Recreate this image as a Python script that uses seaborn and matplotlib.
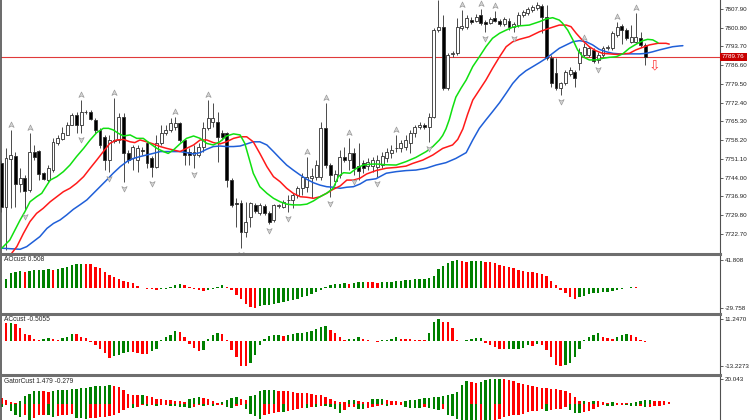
import numpy as np
import matplotlib
matplotlib.use("Agg")
import matplotlib.pyplot as plt
import seaborn as sns
from matplotlib.path import Path
from matplotlib import transforms

nan = np.nan

# ---- candles (bar index 0..137) ----
opens = [7749.6, 7732.9, 7751.1, 7752.2, 7741.6, 7743.9, 7739.3, 7753.7, 7754.1, 7745.8,
         7743.1, 7746.9, 7757.1, 7758.7, 7760.2, 7764.0, 7767.7, 7764.0, 7768.9, 7768.9,
         7765.9, 7762.1, 7759.4, 7750.7, 7758.3, 7758.3, 7767.0, 7753.4, 7751.5, 7750.7,
         7754.5, 7757.1, 7751.5, 7748.1, 7757.1, 7760.9, 7762.1, 7763.2, 7764.7, 7758.3,
         7753.7, 7752.6, 7752.6, 7755.6, 7762.8, 7765.1, 7765.1, 7760.9, 7760.9, 7743.1,
         7734.4, 7734.4, 7723.4, 7729.1, 7733.7, 7730.6, 7733.3, 7730.6, 7728.0, 7733.3,
         7732.9, 7735.4, 7735.6, 7737.5, 7740.1, 7740.5, 7743.9, 7744.3, 7744.3, 7762.8,
         7748.8, 7742.7, 7745.0, 7751.8, 7750.7, 7753.4, 7748.4, 7749.6, 7748.4, 7748.4,
         7748.1, 7748.8, 7751.5, 7753.4, 7755.1, 7755.3, 7755.6, 7757.1, 7760.9, 7763.2,
         7764.0, 7763.2, 7767.0, 7799.9, 7801.1, 7778.0, 7790.9, 7791.2, 7800.7, 7801.1,
         7803.7, 7803.3, 7805.6, 7803.0, 7802.6, 7804.5, 7803.3, 7802.2, 7803.3, 7801.1,
         7801.8, 7805.6, 7806.4, 7807.5, 7808.3, 7809.0, 7804.9, 7789.3, 7783.7, 7778.0,
         7779.9, 7783.3, 7784.0, 7787.4, 7790.5, 7790.5, 7792.4, 7788.6, 7790.5, 7793.1,
         7793.1, 7798.0, 7801.5, 7799.9, 7795.4, 7795.4, 7796.9, 7794.3]
highs = [7750.7, 7755.3, 7762.1, 7753.7, 7747.7, 7745.0, 7760.9, 7756.4, 7754.5, 7746.2,
         7748.8, 7759.0, 7760.2, 7763.2, 7765.1, 7768.5, 7768.9, 7773.4, 7769.6, 7769.6,
         7766.6, 7762.8, 7760.2, 7760.2, 7774.2, 7768.5, 7768.5, 7754.5, 7756.4, 7756.4,
         7755.6, 7757.5, 7752.2, 7760.2, 7764.0, 7764.0, 7766.6, 7767.0, 7765.1, 7758.3,
         7755.3, 7756.4, 7757.1, 7765.1, 7773.4, 7772.3, 7768.9, 7762.1, 7761.3, 7743.9,
         7736.3, 7735.6, 7734.8, 7734.8, 7734.4, 7734.4, 7734.0, 7731.4, 7734.0, 7734.0,
         7735.6, 7737.5, 7738.2, 7740.9, 7745.8, 7751.8, 7747.7, 7750.7, 7765.1, 7772.3,
         7749.6, 7746.9, 7754.5, 7755.6, 7759.0, 7755.3, 7757.1, 7750.7, 7751.5, 7751.8,
         7752.6, 7753.7, 7755.3, 7756.4, 7760.2, 7758.3, 7760.2, 7762.1, 7764.0, 7765.1,
         7764.7, 7768.5, 7800.7, 7811.3, 7805.6, 7791.2, 7792.0, 7804.5, 7807.5, 7805.6,
         7804.9, 7806.0, 7807.9, 7803.7, 7804.9, 7807.1, 7804.1, 7804.9, 7804.5, 7803.0,
         7806.8, 7807.5, 7808.6, 7809.4, 7810.5, 7809.8, 7809.4, 7790.5, 7789.3, 7780.2,
         7784.8, 7785.9, 7784.8, 7793.1, 7795.0, 7793.9, 7793.1, 7791.6, 7793.9, 7794.3,
         7799.6, 7803.0, 7802.2, 7800.7, 7801.8, 7806.4, 7799.2, 7795.0]
lows = [7731.0, 7716.6, 7732.5, 7732.9, 7738.6, 7731.8, 7738.6, 7750.7, 7743.1, 7743.1,
        7742.4, 7746.2, 7756.4, 7758.3, 7760.2, 7764.0, 7760.9, 7760.9, 7768.1, 7765.9,
        7760.9, 7755.3, 7746.9, 7746.2, 7757.1, 7757.1, 7742.4, 7749.6, 7746.9, 7746.2,
        7752.6, 7747.7, 7744.3, 7747.7, 7756.4, 7760.2, 7761.3, 7762.1, 7757.5, 7748.8,
        7748.8, 7747.7, 7751.8, 7753.7, 7762.1, 7763.2, 7750.0, 7758.3, 7740.5, 7732.9,
        7725.3, 7717.4, 7721.5, 7725.3, 7730.6, 7729.9, 7729.9, 7726.5, 7727.2, 7732.5,
        7732.5, 7731.0, 7732.5, 7736.3, 7737.5, 7738.6, 7736.3, 7743.1, 7743.1, 7747.7,
        7736.7, 7741.2, 7743.9, 7750.0, 7746.9, 7745.0, 7743.1, 7745.8, 7746.9, 7746.2,
        7744.3, 7747.7, 7750.0, 7751.5, 7753.7, 7753.7, 7754.5, 7753.4, 7759.4, 7762.4,
        7762.4, 7757.5, 7766.6, 7799.2, 7777.2, 7777.2, 7789.7, 7790.5, 7799.9, 7800.3,
        7802.2, 7803.0, 7801.8, 7799.2, 7802.2, 7803.0, 7801.5, 7801.5, 7799.9, 7799.2,
        7801.1, 7804.9, 7805.6, 7806.8, 7807.5, 7798.8, 7788.6, 7778.4, 7777.2, 7775.3,
        7779.1, 7782.5, 7778.4, 7784.8, 7789.7, 7789.7, 7787.4, 7787.4, 7789.7, 7792.4,
        7792.4, 7797.3, 7794.6, 7796.2, 7795.0, 7795.0, 7793.5, 7786.7]
closes = [7732.9, 7751.5, 7752.6, 7741.6, 7743.9, 7739.0, 7753.7, 7751.8, 7745.4, 7743.5,
          7747.7, 7757.5, 7759.0, 7760.9, 7764.0, 7767.7, 7764.0, 7768.9, 7768.7, 7766.2,
          7762.1, 7756.4, 7750.7, 7758.3, 7757.9, 7767.0, 7753.4, 7750.7, 7755.6, 7755.3,
          7754.1, 7749.6, 7748.1, 7757.1, 7760.9, 7762.1, 7764.7, 7764.7, 7758.3, 7752.6,
          7752.6, 7753.7, 7755.6, 7762.8, 7766.6, 7766.6, 7759.4, 7759.4, 7743.1, 7733.7,
          7734.0, 7723.4, 7727.2, 7734.4, 7731.4, 7733.7, 7730.6, 7727.2, 7733.7, 7733.5,
          7734.8, 7735.6, 7737.5, 7740.1, 7744.3, 7744.3, 7744.6, 7748.8, 7762.8, 7748.8,
          7745.0, 7745.4, 7751.8, 7750.7, 7753.4, 7747.7, 7746.5, 7747.7, 7750.0, 7750.7,
          7750.7, 7752.2, 7753.7, 7754.5, 7755.3, 7757.1, 7758.3, 7760.9, 7763.2, 7764.0,
          7763.2, 7767.0, 7799.9, 7801.1, 7778.0, 7790.5, 7791.2, 7801.1, 7801.5, 7804.5,
          7803.0, 7804.9, 7802.6, 7802.2, 7804.1, 7803.3, 7802.2, 7804.1, 7801.1, 7802.2,
          7805.6, 7806.8, 7807.9, 7808.6, 7809.4, 7804.9, 7789.3, 7779.9, 7778.0, 7779.9,
          7784.0, 7784.8, 7781.8, 7791.6, 7793.5, 7793.1, 7788.2, 7790.5, 7793.1, 7793.5,
          7798.8, 7801.1, 7799.9, 7796.9, 7797.3, 7797.3, 7794.3, 7789.76]

# ---- alligator lines (bar index, price) ----
lips_x = [0.1, 1.8, 4.0, 5.0, 6.1, 7.5, 8.6, 9.7, 10.4, 11.8, 13.2, 14.6, 16.0, 17.5, 18.9, 20.3,
          21.7, 22.8, 23.8, 24.9, 26.0, 27.4, 28.8, 30.2, 31.6, 33.1, 34.5, 35.5, 36.6, 38.0, 39.4,
          40.9, 42.3, 43.7, 45.1, 46.5, 47.9, 49.4, 50.8, 51.8, 52.6, 53.6, 55.0, 56.5, 57.9, 59.3,
          60.7, 62.1, 63.6, 65.0, 66.4, 67.8, 69.2, 70.6, 71.7, 72.8, 74.2, 75.6, 77.0, 78.4, 79.7,
          81.9, 84.0, 86.1, 88.2, 90.4, 91.8, 93.2, 93.9, 94.6, 95.3, 96.0, 96.7, 97.8, 98.9, 100.3,
          101.7, 103.1, 104.5, 106.0, 107.4, 108.8, 110.2, 112.3, 114.5, 115.9, 117.3, 118.7, 119.4,
          120.5, 121.6, 122.6, 123.7, 125.1, 126.5, 127.9, 129.4, 130.8, 132.2, 133.6, 135.0, 136.5,
          137.5, 138.6, 139.7]
lips_y = [7717.3, 7720.4, 7728.0, 7731.1, 7734.9, 7736.8, 7738.1, 7741.2, 7743.1, 7744.4, 7746.3,
          7748.8, 7752.0, 7755.1, 7758.3, 7761.1, 7762.7, 7762.7, 7762.1, 7760.8, 7759.8, 7760.2,
          7758.9, 7758.9, 7757.0, 7755.1, 7753.9, 7753.2, 7754.5, 7756.8, 7758.9, 7759.8, 7758.9,
          7757.0, 7756.4, 7757.6, 7759.8, 7760.6, 7760.2, 7757.0, 7752.0, 7745.7, 7740.6, 7738.1,
          7736.2, 7734.9, 7734.0, 7733.7, 7733.7, 7734.0, 7735.2, 7736.8, 7738.1, 7740.0, 7744.4,
          7745.9, 7745.7, 7747.6, 7748.8, 7749.1, 7749.2, 7748.9, 7748.8, 7750.1, 7751.7, 7753.9,
          7755.8, 7758.3, 7760.0, 7762.5, 7766.0, 7770.5, 7774.5, 7777.9, 7781.0, 7786.1, 7789.8,
          7793.6, 7796.8, 7798.7, 7799.9, 7801.0, 7801.5, 7801.8, 7803.1, 7804.1, 7804.6, 7803.7,
          7802.5, 7799.9, 7796.2, 7792.4, 7789.8, 7788.6, 7788.6, 7789.2, 7789.6, 7789.8, 7790.9,
          7793.0, 7794.5, 7795.9, 7796.4, 7796.2, 7795.1]
teeth_x = [2.2, 3.3, 4.7, 6.1, 7.5, 8.9, 10.4, 11.8, 13.2, 14.6, 16.0, 17.5, 18.9, 20.3, 21.7, 23.1,
           24.5, 26.0, 27.4, 28.4, 29.5, 30.9, 32.3, 33.8, 35.2, 36.6, 38.0, 39.4, 40.9, 42.3, 43.7,
           45.1, 46.5, 47.9, 49.4, 50.8, 52.2, 53.6, 55.0, 56.5, 57.9, 59.3, 60.7, 62.1, 63.6, 65.0,
           66.4, 67.8, 69.2, 70.6, 72.1, 73.5, 74.9, 76.3, 77.7, 79.7, 81.9, 84.0, 86.1, 87.5, 89.7,
           91.8, 93.9, 96.0, 97.1, 98.2, 99.2, 100.3, 101.7, 103.1, 104.5, 106.0, 107.4, 108.8, 110.2,
           112.3, 114.5, 116.6, 118.7, 120.2, 121.2, 122.3, 123.7, 125.1, 126.5, 127.9, 129.4, 130.8,
           132.2, 133.6, 135.0, 136.5, 137.9, 139.7, 141.4, 142.1]
teeth_y = [7715.4, 7717.9, 7722.9, 7727.4, 7730.5, 7732.4, 7734.9, 7736.8, 7738.7, 7740.0, 7741.9,
           7744.4, 7747.6, 7750.7, 7753.9, 7757.0, 7758.3, 7758.5, 7757.6, 7757.3, 7758.3, 7757.6,
           7756.8, 7755.8, 7755.1, 7754.5, 7753.9, 7755.1, 7756.4, 7758.3, 7758.3, 7757.3, 7756.8,
           7757.6, 7758.9, 7759.5, 7759.5, 7757.6, 7753.2, 7748.2, 7744.4, 7742.5, 7740.0, 7738.1,
           7736.8, 7736.6, 7736.2, 7736.8, 7738.1, 7739.6, 7740.9, 7743.1, 7743.1, 7743.8, 7745.4,
           7746.7, 7747.6, 7747.9, 7748.4, 7749.4, 7750.7, 7752.6, 7755.1, 7756.4, 7758.5, 7762.5,
           7768.0, 7773.4, 7777.2, 7781.0, 7785.4, 7789.8, 7793.6, 7795.5, 7796.4, 7797.4, 7799.3,
           7800.6, 7801.8, 7801.8, 7801.2, 7798.7, 7795.9, 7793.6, 7792.1, 7791.1, 7790.9, 7790.7,
           7790.9, 7791.1, 7792.4, 7793.4, 7794.3, 7794.9, 7794.9, 7794.6]
jaw_x = [0.1, 4.0, 5.4, 6.8, 8.2, 9.7, 11.1, 12.5, 13.9, 15.3, 16.7, 18.2, 19.6, 21.0, 22.4, 23.8,
         25.3, 26.7, 28.1, 29.5, 30.9, 32.3, 33.8, 35.2, 36.6, 38.0, 39.4, 40.9, 42.3, 43.7, 45.1,
         46.5, 47.9, 49.4, 50.8, 52.2, 53.6, 55.0, 56.5, 57.9, 59.3, 60.7, 62.1, 63.6, 65.0, 66.4,
         67.8, 69.2, 70.6, 72.1, 73.5, 74.9, 76.3, 77.7, 79.7, 81.9, 84.0, 86.1, 88.2, 90.4, 92.5,
         94.6, 96.7, 98.9, 100.3, 101.7, 103.1, 104.5, 106.0, 107.4, 108.8, 110.2, 111.6, 113.1,
         114.5, 115.9, 117.3, 118.7, 120.2, 121.6, 123.0, 124.4, 125.8, 127.2, 128.7, 130.1, 131.5,
         133.6, 135.8, 137.2, 138.6, 140.0, 141.4, 142.8, 144.3, 145.0]
jaw_y = [7717.3, 7716.9, 7717.9, 7719.8, 7721.7, 7724.8, 7726.7, 7728.0, 7729.9, 7732.0, 7733.7,
         7735.6, 7738.1, 7740.6, 7743.1, 7745.7, 7748.2, 7750.1, 7751.3, 7752.0, 7752.6, 7753.2,
         7753.9, 7753.9, 7753.9, 7753.9, 7753.5, 7753.0, 7753.5, 7754.8, 7755.8, 7756.0, 7755.8,
         7755.8, 7756.0, 7756.8, 7757.6, 7757.6, 7756.4, 7753.9, 7751.3, 7748.8, 7746.9, 7745.0,
         7743.4, 7742.1, 7741.2, 7740.6, 7740.4, 7740.0, 7740.4, 7740.6, 7741.6, 7743.1, 7743.6,
         7745.7, 7746.3, 7746.7, 7746.9, 7747.6, 7748.8, 7749.7, 7751.3, 7753.5, 7758.3, 7762.7,
         7765.9, 7769.0, 7772.4, 7776.0, 7779.7, 7782.5, 7784.5, 7786.1, 7787.6, 7789.2, 7791.1,
         7793.0, 7794.3, 7795.5, 7795.9, 7795.5, 7794.3, 7792.6, 7791.7, 7791.1, 7790.9, 7790.9,
         7790.9, 7791.1, 7791.7, 7792.4, 7793.0, 7793.6, 7793.9, 7794.0]

fractal_up = [2, 6, 17, 24, 37, 44, 65, 69, 74, 84, 98, 102, 105, 124, 131, 135]
fractal_dn = [5, 17, 23, 26, 32, 41, 51, 57, 61, 70, 75, 80, 91, 103, 109, 119, 127]
last_price = 7789.76
signal_bar, signal_price = 139, 7786.6

price_ticks = [7807.90, 7800.80, 7793.70, 7786.60, 7779.50, 7772.40, 7765.30,
               7758.20, 7751.10, 7744.00, 7736.90, 7729.80, 7722.70]

# ---- oscillators ----
ao = [nan, 13.5, 22.5, 25.0, 25.5, 24.5, 26.5, 27.0, 27.5, 28.0,
      28.5, 28.25, 29.0, 30.0, 32.5, 34.5, 36.0, 36.5, 36.25, 36.0,
      32.5, 30.0, 25.0, 20.0, 16.5, 13.5, 11.5, 10.0, 7.5, 3.5,
      0.5, -0.5, -1.5, -2.0, -1.5, -1.0, 1.5, 5.0, 6.5, 5.0,
      2.5, -1.0, -2.5, -3.5, -2.5, -1.0, 2.5, 4.5, 1.5, -2.5,
      -10.0, -16.5, -23.5, -27.5, -29.758, -26.5, -25.5, -24.5, -23.0, -21.5,
      -20.0, -18.5, -17.5, -15.5, -13.5, -11.0, -8.5, -6.0, -2.5, 2.5,
      5.5, 6.5, 7.0, 7.5, 7.25, 8.5, 9.25, 9.5, 9.25, 9.0,
      8.5, 9.5, 9.75, 10.0, 11.0, 11.5, 12.5, 13.25, 13.5, 14.0,
      14.75, 15.0, 18.5, 28.5, 33.5, 37.5, 41.0, 41.808, 40.3, 39.8,
      40.6, 41.0, 41.4, 40.0, 38.8, 37.5, 35.5, 34.0, 32.5, 30.0,
      27.5, 26.5, 25.0, 24.0, 22.5, 21.5, 18.5, 11.5, 4.5, -2.5,
      -7.5, -12.5, -15.5, -12.5, -11.5, -9.0, -7.5, -6.5, -6.0, -5.5,
      -4.5, -2.5, -1.2, 0.2, 1.8, 1.4, 1.0, 0.508]
ac = [nan, 9.0, 9.3, 8.7, 6.4, 3.4, 2.9, 0.7, 0.4, 0.7,
      1.2, 0.8, 0.6, 1.2, 2.1, 3.7, 3.3, 2.1, 1.2, -0.7,
      -2.3, -4.5, -6.6, -9.2, -8.0, -7.4, -6.6, -5.7, -5.9, -6.4,
      -6.8, -7.0, -5.2, -4.5, 0.6, 2.0, 2.9, 5.0, 4.7, 1.8,
      -1.9, -3.9, -5.2, -4.8, 1.1, 2.9, 3.8, 3.4, 0.6, -4.8,
      -8.3, -13.0, -13.2273, -11.7, -7.4, -2.3, 1.1, 2.4, 2.9, 3.0,
      2.4, 2.9, 3.4, 3.8, 4.2, 4.7, 5.2, 5.9, 6.9, 7.6,
      5.6, 3.8, 2.0, 0.6, 0.8, 1.1, 1.8, 1.1, 0.6, 0.0,
      -0.4, 0.4, 0.6, 1.1, 1.8, 1.1, 0.8, 0.7, 0.6, 0.5,
      0.4, 4.2, 9.9, 11.247, 9.9, 9.6, 6.4, 0.6, 0.0, 0.6,
      1.1, 1.3, 1.5, -1.0, -2.3, -3.4, -4.2, -4.5, -4.3, -4.2,
      -4.1, -3.7, -2.3, -2.5, -1.8, -2.3, -4.8, -8.3, -12.6, -13.0,
      -12.8, -11.7, -8.3, -4.5, 0.4, 1.8, 2.9, 3.8, 2.0, 1.3,
      1.1, 1.8, 2.9, 3.4, 2.9, 2.0, 0.6, -0.5055]
gator_up = [4.5, 2.7, 1.3, 0.8, 1.9, 6.1, 8.0, 9.9, 10.1, 9.9,
            9.3, 10.4, 10.7, 10.8, 11.2, 11.5, 12.0, 12.5, 12.8, 13.6,
            14.2, 14.3, 14.4, 14.7, 14.2, 13.4, 10.7, 8.0, 7.2, 6.7,
            7.2, 6.1, 5.3, 4.0, 3.5, 2.9, 2.7, 2.4, 1.9, 1.3,
            3.5, 4.5, 5.1, 4.5, 3.5, 2.4, 0.8, 1.3, 2.9, 4.5,
            5.1, 4.0, 2.9, 6.1, 7.2, 9.9, 10.7, 10.9, 11.1, 10.4,
            10.1, 9.9, 9.3, 8.8, 8.5, 8.3, 7.7, 7.2, 6.7, 5.1,
            3.5, 1.9, 1.3, 1.2, 2.7, 2.8, 1.9, 1.3, 1.2, 3.5,
            3.6, 3.7, 2.9, 2.1, 1.9, 1.6, 1.9, 2.7, 2.9, 4.0,
            4.5, 4.8, 5.1, 5.3, 6.1, 6.7, 8.0, 9.3, 15.2, 17.9,
            17.4, 16.3, 17.5, 18.7, 19.5, 19.8, 20.043, 19.5, 18.7, 17.9,
            16.8, 16.0, 15.2, 14.4, 13.4, 12.8, 12.5, 12.0, 11.7, 11.2,
            10.4, 8.8, 5.3, 1.9, 2.1, 1.7, 2.4, 2.1, 1.3, 0.8,
            1.1, 0.5, 0.48, 0.3, 0.8, 1.3, 2.1, 2.7, 2.72, 2.5,
            2.4, 1.9, 1.479]
gator_lo = [-2.7, -1.3, -6.1, -8.8, -10.7, -9.3, -14.0, -11.5, -9.3, -8.8,
            -9.3, -10.4, -9.9, -9.3, -8.8, -8.3, -11.5, -11.7, -11.8, -11.5,
            -11.2, -10.9, -10.7, -9.9, -9.3, -7.2, -5.3, -3.5, -3.6, -2.9,
            -1.3, -1.5, -1.3, -1.5, -1.3, -1.3, -1.6, -1.9, -2.4, -2.9,
            -3.5, -2.4, -1.3, -1.5, -1.3, -1.9, -0.8, -0.8, -2.7, -3.5,
            -1.9, -1.3, -4.0, -8.0, -9.9, -12.0, -9.3, -8.0, -7.2, -6.7,
            -6.8, -6.1, -5.3, -4.0, -3.5, -3.6, -2.7, -2.8, -1.9, -2.0,
            -2.4, -4.0, -7.2, -5.3, -2.7, -2.4, -4.0, -4.5, -3.5, -2.7,
            -2.1, -1.3, -1.9, -1.3, -1.1, -1.0, -2.7, -3.5, -3.6, -3.7,
            -2.7, -3.5, -4.5, -5.3, -4.5, -9.3, -9.9, -12.0, -13.6, -13.8,
            -14.2, -14.3, -13.1, -13.6, -14.2, -13.4, -12.0, -10.9, -9.9, -9.3,
            -8.8, -8.0, -6.7, -6.1, -5.6, -4.5, -6.1, -5.3, -4.5, -4.0,
            -2.4, -5.3, -7.2, -7.7, -6.7, -6.1, -4.5, -2.7, -1.3, -1.6,
            -1.9, -1.1, -0.8, -1.1, -1.9, -2.1, -2.0, -2.7, -2.4, -1.9,
            -1.6, -1.3, -0.279]

GREEN, RED = "#008000", "#ff0000"


def trend_colors(values, rising_is_green=True, first=GREEN):
    v = np.asarray(values, dtype=float)
    prev = np.r_[nan, v[:-1]]
    grow = v > prev if rising_is_green else v < prev
    cols = np.where(grow, GREEN, RED).astype(object)
    cols[np.isnan(prev)] = first
    return cols


def hist(ax, values, rising_is_green=True, first=GREEN):
    v = np.asarray(values, dtype=float)
    cols = trend_colors(v, rising_is_green, first)
    ok = ~np.isnan(v)
    x = np.arange(len(v))
    ax.bar(x[ok], v[ok], width=0.5, color=list(cols[ok]), linewidth=0)


sns.set_theme(style="white")
plt.rcParams['font.family'] = ['Liberation Sans', 'DejaVu Sans']

W, H = 752, 420
fig = plt.figure(figsize=(W / 100, H / 100), dpi=100)


def box(top, bottom):
    return [1 / W, (H - bottom) / H, 719 / W, (bottom - top) / H]


ax = fig.add_axes(box(0, 253.5))
ax_ao = fig.add_axes(box(254, 313), sharex=ax)
ax_ac = fig.add_axes(box(314, 374), sharex=ax)
ax_g = fig.add_axes(box(375, 432), sharex=ax)

# candles
o, c = np.array(opens), np.array(closes)
bars = np.arange(len(o))
bull = c >= o
ax.vlines(bars, lows, highs, color="#4a4a4a", linewidth=0.7, zorder=2)
body = np.maximum(np.abs(c - o), 0.3)
ax.bar(bars, body, bottom=np.minimum(o, c), width=0.62,
       color=np.where(bull, "white", "black"), edgecolor="#303030",
       linewidth=0.6, zorder=3)

# alligator
sns.lineplot(x=jaw_x, y=jaw_y, ax=ax, color="#1f5fd8", linewidth=1.1, sort=False, estimator=None, zorder=4)
sns.lineplot(x=teeth_x, y=teeth_y, ax=ax, color="#ff1a1a", linewidth=1.1, sort=False, estimator=None, zorder=4)
sns.lineplot(x=lips_x, y=lips_y, ax=ax, color="#10e010", linewidth=1.1, sort=False, estimator=None, zorder=4)

# fractals
arrow = Path([(0, 1), (0.75, -0.55), (0, -0.15), (-0.75, -0.55), (0, 1)],
             [Path.MOVETO, Path.LINETO, Path.LINETO, Path.LINETO, Path.CLOSEPOLY])
arrow_dn = Path(arrow.vertices * [1, -1], arrow.codes)
hi, lo = np.array(highs), np.array(lows)
ax.plot(fractal_up, hi[fractal_up] + 1.9, linestyle="none", marker=arrow, markersize=5,
        markerfacecolor="#d8d8d8", markeredgecolor="#9a9a9a", markeredgewidth=0.5, zorder=5)
ax.plot(fractal_dn, lo[fractal_dn] - 2.3, linestyle="none", marker=arrow_dn, markersize=5,
        markerfacecolor="#d8d8d8", markeredgecolor="#9a9a9a", markeredgewidth=0.5, zorder=5)

# current price and signal
ax.axhline(last_price, color="#e03a3a", linewidth=0.8, zorder=1)
ax.text(signal_bar, signal_price, "\u21e9", color="#ff3b3b", fontsize=10,
        ha="center", va="center", family=["DejaVu Sans"], zorder=6)
tr = transforms.blended_transform_factory(ax.transAxes, ax.transData)
ax.text(1.003, last_price, f"{last_price:.2f}", transform=tr, ha="left", va="center",
        fontsize=4.5, color="white", clip_on=False,
        bbox=dict(boxstyle="square,pad=0.3", fc="#c80000", ec="none"))

ax.set_xlim(-0.07, 152.9)
ax.set_ylim(7715.3, 7811.3)
ax.set_yticks(price_ticks)
ax.set_yticklabels([f"{p:.2f}" for p in price_ticks])

# oscillators
hist(ax_ao, ao, True, GREEN)
ax_ao.set_ylim(-37.0, 51.5)
ax_ao.set_yticks([41.808, -29.758])
ax_ao.set_yticklabels(["41.808", "-29.758"])
ax_ao.text(0.004, 0.96, "AOcust 0.508", transform=ax_ao.transAxes, va="top", fontsize=4.8)

hist(ax_ac, ac, True, RED)
ax_ac.set_ylim(-17.3, 13.9)
ax_ac.set_yticks([11.247, -13.2273])
ax_ac.set_yticklabels(["11.2470", "-13.2273"])
ax_ac.text(0.004, 0.96, "ACcust -0.5055", transform=ax_ac.transAxes, va="top", fontsize=4.8)

hist(ax_g, gator_up, True, RED)
hist(ax_g, gator_lo, False, GREEN)
ax_g.set_ylim(-22.6, 23.0)
ax_g.set_yticks([20.043])
ax_g.set_yticklabels(["20.043"])
ax_g.text(0.004, 0.95, "GatorCust 1.479 -0.279", transform=ax_g.transAxes, va="top", fontsize=4.8)

for a in (ax, ax_ao, ax_ac, ax_g):
    a.set_facecolor("white")
    a.yaxis.tick_right()
    a.tick_params(axis="y", length=2, width=0.5, pad=1.5, labelsize=4.5, colors="#202020")
    a.tick_params(axis="x", bottom=False, labelbottom=False)
    a.set_xlabel("")
    a.set_ylabel("")
    a.spines["bottom"].set_visible(False)
    a.spines["left"].set_color("#505050")
    a.spines["left"].set_linewidth(1.2)
    a.spines["right"].set_color("#505050")
    a.spines["right"].set_linewidth(0.8)
    a.grid(False)
ax.spines["top"].set_visible(False)
for a in (ax_ao, ax_ac, ax_g):
    a.spines["top"].set_color("#6e6e6e")
    a.spines["top"].set_linewidth(2.2)

fig.savefig("out.png", dpi=100, facecolor="white")
